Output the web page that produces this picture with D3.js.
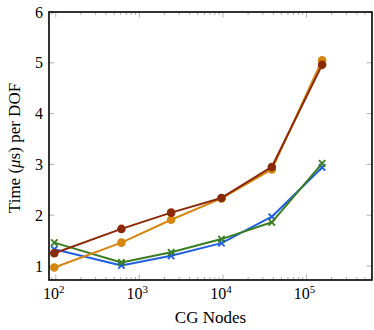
<!DOCTYPE html>
<meta charset="utf-8">
<head>
    <script type="text/javascript" src="https://cdn.jsdelivr.net/npm/d3@7"></script>
    <style>
        body { margin: 0; background: #fff; }
        text { font-family: "Liberation Serif", "DejaVu Serif", serif; fill: #000; }
    </style>
</head>
<body>
    <script>
        // data
        var nodes = [96, 610, 2400, 9600, 38400, 153600];
        var blueVals = [1.33, 1.01, 1.20, 1.45, 1.97, 2.94];
        var greenVals = [1.46, 1.07, 1.27, 1.53, 1.86, 3.02];
        var orangeVals = [0.97, 1.46, 1.91, 2.33, 2.90, 5.05];
        var redVals = [1.25, 1.73, 2.05, 2.34, 2.95, 4.96];
        var yTicks = [1, 2, 3, 4, 5, 6];
        var xTicks = [1e2, 1e3, 1e4, 1e5];

        var series = [
            {vals: blueVals, color: "#1f5fe0", mark: "cross"},
            {vals: greenVals, color: "#3b7d23", mark: "cross"},
            {vals: orangeVals, color: "#d4860f", mark: "circle"},
            {vals: redVals, color: "#8b2a08", mark: "circle"}
        ];

        var W = 374, H = 330;
        var pLeft = 49, pRight = 372, pTop = 12, pBottom = 280;

        var svg = d3.select("body").append("svg")
            .attr("width", W)
            .attr("height", H);

        var x = d3.scaleLog().domain([83, 6.07e5]).range([pLeft, pRight]);
        // y=6 at top, y=1 at 266
        var y = d3.scaleLinear().domain([1, 6]).range([266, pTop]);

        // minor ticks on x
        var minor = [];
        for (var e = 1; e <= 5; e++) {
            for (var m = 2; m <= 9; m++) {
                var v = m * Math.pow(10, e);
                if (v > 83 && v < 6.07e5) minor.push(v);
            }
        }

        var ticks = svg.append("g").attr("stroke", "#a0a0a0").attr("stroke-width", 0.8);
        minor.forEach(function(v) {
            ticks.append("line").attr("x1", x(v)).attr("x2", x(v)).attr("y1", pBottom).attr("y2", pBottom - 3);
            ticks.append("line").attr("x1", x(v)).attr("x2", x(v)).attr("y1", pTop).attr("y2", pTop + 3);
        });
        xTicks.forEach(function(v) {
            ticks.append("line").attr("x1", x(v)).attr("x2", x(v)).attr("y1", pBottom).attr("y2", pBottom - 5.5);
            ticks.append("line").attr("x1", x(v)).attr("x2", x(v)).attr("y1", pTop).attr("y2", pTop + 5.5);
        });
        yTicks.forEach(function(v) {
            ticks.append("line").attr("x1", pLeft).attr("x2", pLeft + 5.5).attr("y1", y(v)).attr("y2", y(v));
            ticks.append("line").attr("x1", pRight).attr("x2", pRight - 5.5).attr("y1", y(v)).attr("y2", y(v));
        });

        // lines and marks
        var line = d3.line()
            .x(function(d, i) { return x(nodes[i]); })
            .y(function(d) { return y(d); });

        series.forEach(function(s) {
            var g = svg.append("g");
            g.append("path")
                .attr("d", line(s.vals))
                .attr("fill", "none")
                .attr("stroke", s.color)
                .attr("stroke-width", 2)
                .attr("stroke-linejoin", "round");
            s.vals.forEach(function(d, i) {
                var cx = x(nodes[i]), cy = y(d);
                if (s.mark == "circle") {
                    g.append("circle").attr("cx", cx).attr("cy", cy).attr("r", 4.3)
                        .attr("fill", s.color);
                } else {
                    var r = 3.2;
                    g.append("path")
                        .attr("d", "M" + (cx - r) + "," + (cy - r) + "L" + (cx + r) + "," + (cy + r) +
                            "M" + (cx - r) + "," + (cy + r) + "L" + (cx + r) + "," + (cy - r))
                        .attr("stroke", s.color)
                        .attr("stroke-width", 1.8);
                }
            });
        });

        // frame
        svg.append("rect")
            .attr("x", pLeft).attr("y", pTop)
            .attr("width", pRight - pLeft).attr("height", pBottom - pTop)
            .attr("fill", "none")
            .attr("stroke", "#000")
            .attr("stroke-width", 1.6);

        // tick labels
        yTicks.forEach(function(v) {
            svg.append("text")
                .attr("x", pLeft - 6)
                .attr("y", y(v) + 5.5)
                .attr("text-anchor", "end")
                .style("font-size", "16px")
                .text(v);
        });
        xTicks.forEach(function(v) {
            var t = svg.append("text")
                .attr("x", x(v) - 2)
                .attr("y", pBottom + 19)
                .attr("text-anchor", "middle")
                .style("font-size", "16px");
            t.append("tspan").text("10");
            t.append("tspan")
                .attr("dy", -6.5)
                .style("font-size", "11px")
                .text(Math.round(Math.log10(v)));
        });

        // axis titles
        svg.append("text")
            .attr("x", (pLeft + pRight) / 2)
            .attr("y", 323)
            .attr("text-anchor", "middle")
            .style("font-size", "17px")
            .text("CG Nodes");

        var yl = svg.append("text")
            .attr("transform", "translate(20," + ((pTop + pBottom) / 2 + 2) + ") rotate(-90)")
            .attr("text-anchor", "middle")
            .style("font-size", "17px");
        yl.append("tspan").text("Time (");
        yl.append("tspan").style("font-style", "italic").text("μ");
        yl.append("tspan").text("s) per DOF");
    </script>
</body>
</html>
